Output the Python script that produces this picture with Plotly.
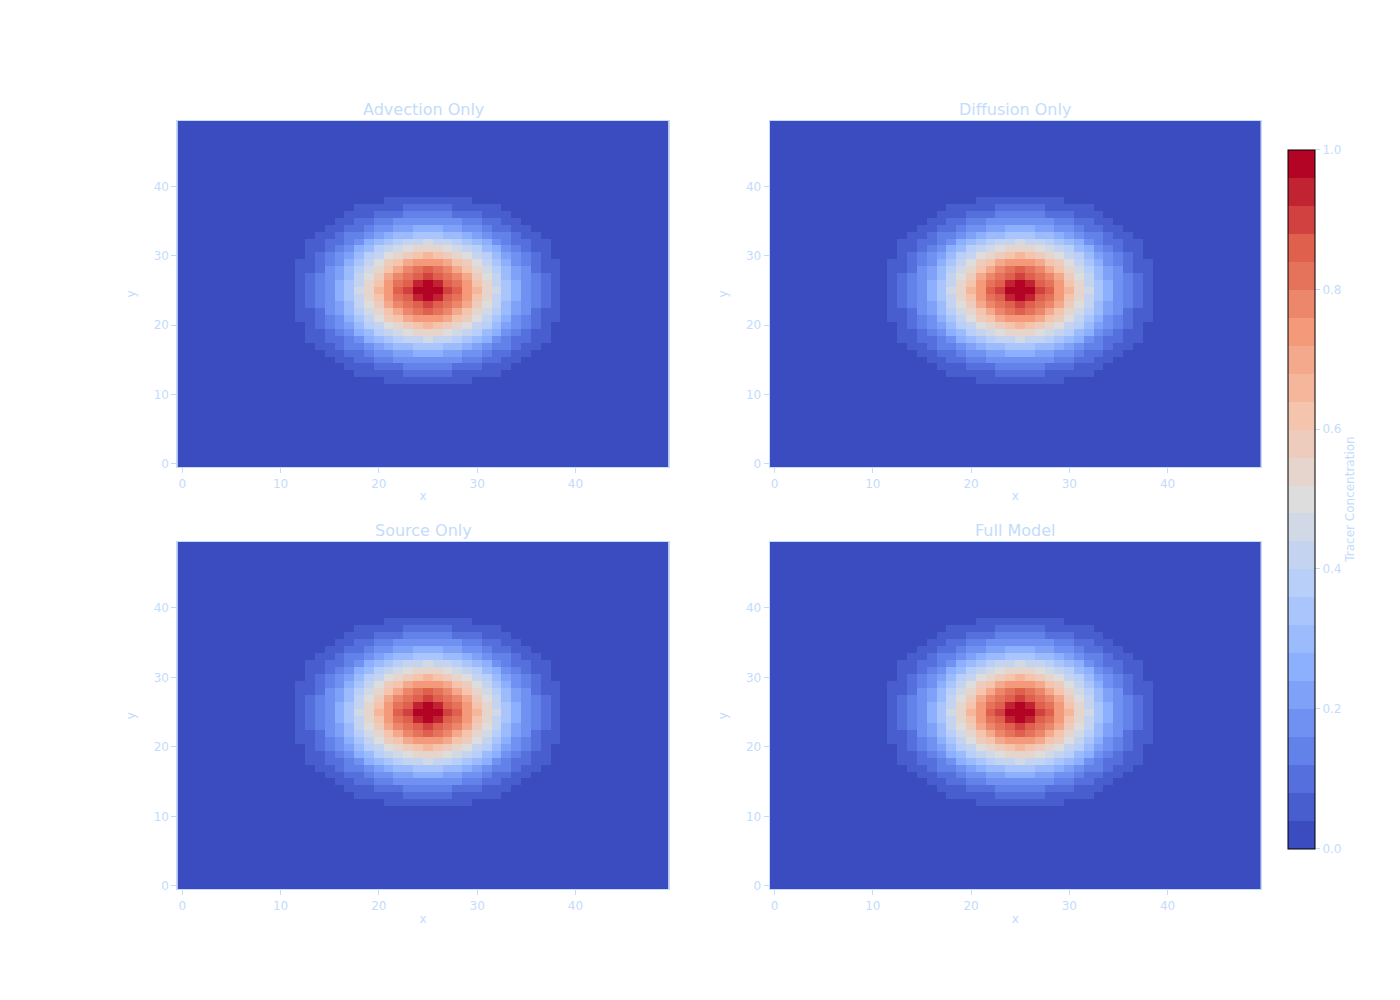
import numpy as np
import plotly.graph_objects as go
from plotly.subplots import make_subplots

titles = ["Advection Only", "Diffusion Only", "Source Only", "Full Model"]
# profile (distance from centre cell 25)
profile_by_dist = [1.0, 0.965, 0.91, 0.84, 0.755, 0.655, 0.552, 0.445, 0.347, 0.262,
                   0.191, 0.135, 0.092, 0.061, 0.039, 0.024, 0.015, 0.008, 0.005, 0.003,
                   0.001, 0.0, 0.0, 0.0, 0.0, 0.0]
xs = list(range(50))
ys = list(range(50))
prof = np.array([profile_by_dist[min(abs(i - 25), 25)] for i in xs])
field = np.outer(prof, prof)

C = "#c3dcfb"
anchors = [(0, (59, 76, 192)), (0.125, (98, 130, 234)), (0.25, (141, 176, 254)),
           (0.375, (184, 208, 249)), (0.5, (221, 221, 221)), (0.625, (245, 196, 173)),
           (0.75, (244, 154, 123)), (0.875, (222, 96, 77)), (1, (180, 4, 38))]
def cw(t):
    for (a, ca), (b, cb) in zip(anchors[:-1], anchors[1:]):
        if t <= b:
            f = (t - a) / (b - a)
            return "rgb(%d,%d,%d)" % tuple(round(ca[k] + f * (cb[k] - ca[k])) for k in range(3))
    return "rgb(180,4,38)"
n = 25
cs = []
for i in range(n):
    col = cw(i / (n - 1))
    cs += [[i / n, col], [(i + 1) / n, col]]

fig = make_subplots(rows=2, cols=2, subplot_titles=titles)
xd = [[0.121, 0.472], [0.544, 0.895]]
yd = [[0.539, 0.887], [0.115, 0.464]]
for k in range(4):
    r, c = k // 2 + 1, k % 2 + 1
    fig.add_trace(go.Heatmap(z=field, x=xs, y=ys, colorscale=cs, zmin=0, zmax=1,
                             showscale=(k == 0), zsmooth=False,
                             colorbar=dict(x=0.907, xanchor="left", y=0.507, len=0.722, thickness=27,
                                           outlinecolor="black", outlinewidth=1,
                                           tickvals=[0, 0.2, 0.4, 0.6, 0.8, 1.0],
                                           ticktext=["0.0", "0.2", "0.4", "0.6", "0.8", "1.0"],
                                           tickfont=dict(color=C, size=12), ticks="outside",
                                           tickcolor=C,
                                           title=dict(text="Tracer Concentration", side="right",
                                                      font=dict(color=C, size=12)))),
                  row=r, col=c)
    fig.update_xaxes(domain=xd[c - 1], range=[-0.5, 49.5], tickvals=[0, 10, 20, 30, 40], showgrid=False,
                     zeroline=False, showline=True, linecolor=C, mirror=True, ticks="outside",
                     tickcolor=C, tickfont=dict(color=C, size=12),
                     title=dict(text="x", font=dict(color=C, size=12), standoff=2), row=r, col=c)
    fig.update_yaxes(domain=yd[r - 1], range=[-0.5, 49.5], tickvals=[0, 10, 20, 30, 40], showgrid=False,
                     zeroline=False, showline=True, linecolor=C, mirror=True, ticks="outside",
                     tickcolor=C, tickfont=dict(color=C, size=12),
                     title=dict(text="y", font=dict(color=C, size=12)), row=r, col=c)

fig.update_layout(width=1400, height=1000, paper_bgcolor="white", plot_bgcolor="white",
                  margin=dict(l=0, r=0, t=0, b=0),
                  font=dict(family="DejaVu Sans", color=C))
for i, a in enumerate(fig.layout.annotations):
    a.font = dict(color=C, size=16)
    a.x = sum(xd[i % 2]) / 2
    a.y = yd[i // 2][1]
fig.write_html("out.html")
